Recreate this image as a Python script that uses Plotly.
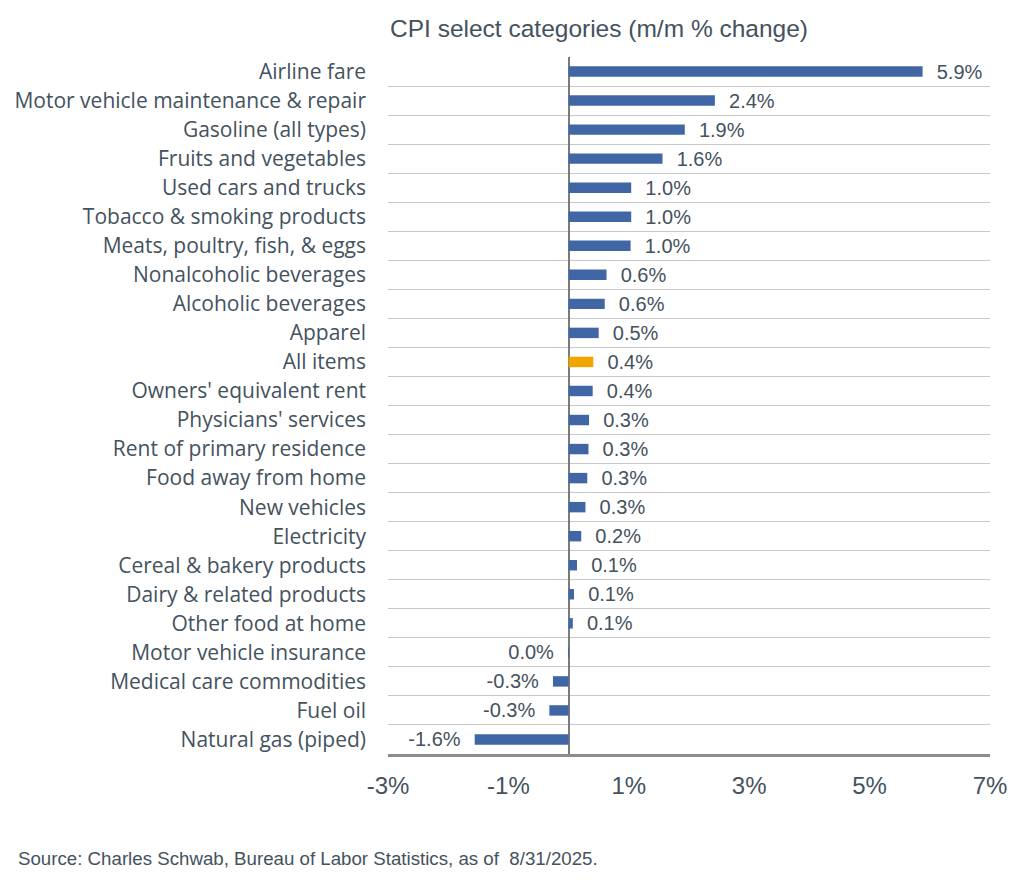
import plotly.graph_objects as go

categories = [
    "Airline fare", "Motor vehicle maintenance & repair", "Gasoline (all types)",
    "Fruits and vegetables", "Used cars and trucks", "Tobacco & smoking products",
    "Meats, poultry, fish, & eggs", "Nonalcoholic beverages", "Alcoholic beverages",
    "Apparel", "All items", "Owners' equivalent rent", "Physicians' services",
    "Rent of primary residence", "Food away from home", "New vehicles", "Electricity",
    "Cereal & bakery products", "Dairy & related products", "Other food at home",
    "Motor vehicle insurance", "Medical care commodities", "Fuel oil", "Natural gas (piped)",
]
values = [5.88, 2.43, 1.93, 1.56, 1.04, 1.04, 1.03, 0.63, 0.60, 0.50, 0.41, 0.40, 0.34,
          0.33, 0.31, 0.28, 0.21, 0.14, 0.09, 0.07, -0.01, -0.26, -0.32, -1.56]
highlight = "All items"
tick_values = [-3, -1, 1, 3, 5, 7]
tick_labels = ["-3%", "-1%", "1%", "3%", "5%", "7%"]

BLUE = "#4066a6"
ORANGE = "#f0a500"
TEXT = "#44525e"
SANS = "Liberation Sans, Arial, sans-serif"
CAT = "Open Sans, sans-serif"

def fmt(v):
    s = f"{round(v, 1) + 0.0:.1f}%"
    return "  " + s if v >= 0 else s + "  "

colors = [ORANGE if c == highlight else BLUE for c in categories]

W, H = 1014, 888  # page body adds 8px margin

fig = go.Figure(go.Bar(
    x=values, y=categories, orientation="h",
    marker=dict(color=colors, line=dict(width=0)),
    text=[fmt(v) for v in values], textposition="outside", constraintext="none",
    textfont=dict(family=SANS, size=20, color=TEXT),
    cliponaxis=False, width=0.36,
))

fig.update_layout(
    width=W, height=H,
    margin=dict(l=380, r=32, t=49, b=142),
    plot_bgcolor="white", paper_bgcolor="white",
    showlegend=False,
    title=dict(text="CPI select categories (m/m % change)", x=(390 - 8) / W, xanchor="left",
               xref="container", y=1 - 20 / H, yanchor="middle",
               font=dict(family=SANS, size=24.5, color=TEXT)),
    xaxis=dict(range=[-3, 7], tickvals=tick_values, ticktext=tick_labels, showgrid=False,
               zeroline=True, zerolinecolor="#7a7a7a", zerolinewidth=2,
               showline=True, linecolor="#8c8c8c", linewidth=3,
               ticks="outside", ticklen=8, tickcolor="rgba(0,0,0,0)", automargin=False,
               tickfont=dict(family=SANS, size=24, color=TEXT)),
    yaxis=dict(type="category", autorange="reversed", tickson="boundaries",
               showgrid=True, gridcolor="#c8c8c8", gridwidth=1, automargin=False,
               ticks="", ticklabelstandoff=21,
               tickfont=dict(family=CAT, size=21, color=TEXT)),
    annotations=[dict(text="Source: Charles Schwab, Bureau of Labor Statistics, as of  8/31/2025.",
                      xref="paper", yref="paper", x=(16 - 388) / 602, y=-(858 - 754) / 697,
                      xanchor="left", yanchor="middle", showarrow=False,
                      font=dict(family=SANS, size=18.7, color=TEXT))],
)

fig.write_html("out.html")
